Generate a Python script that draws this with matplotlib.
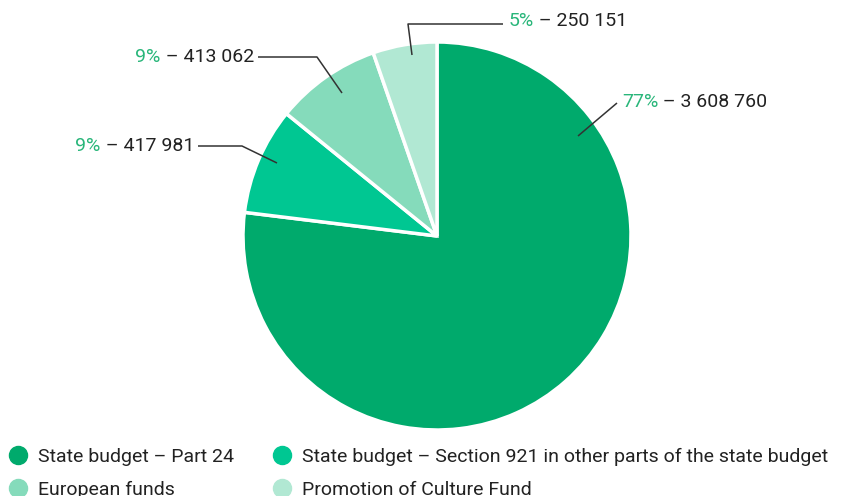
import matplotlib
matplotlib.use("Agg")
import matplotlib.pyplot as plt
from matplotlib.lines import Line2D

categories = [
    "State budget – Part 24",
    "State budget – Section 921 in other parts of the state budget",
    "European funds",
    "Promotion of Culture Fund",
]
values = [3608760, 417981, 413062, 250151]
percent_labels = ["77%", "9%", "9%", "5%"]
value_labels = ["3 608 760", "417 981", "413 062", "250 151"]
colors = ["#00aa6c", "#00c792", "#85dbbb", "#b1e8d3"]
pct_color = "#29b67a"
txt_color = "#222222"

W, H = 843, 496
plt.rcParams["font.family"] = ["Roboto", "DejaVu Sans"]
fig = plt.figure(figsize=(W / 100, H / 100), dpi=100)
ax = fig.add_axes([0, 0, 1, 1])

cx, cy, r = 437, H - 236, 194
ax.pie(values, colors=colors, startangle=90, counterclock=False,
       center=(cx, cy), radius=r,
       wedgeprops=dict(edgecolor="white", linewidth=2.5))
ax.set_xlim(0, W)
ax.set_ylim(0, H)
ax.set_aspect("equal")
ax.axis("off")

# leader lines: (anchor in slice, elbow, end), text position, alignment
leaders = [
    ([(578, 136), (617, 103)], (622, 102), "left"),
    ([(277, 163), (242, 146), (198, 146)], (194, 146), "right"),
    ([(342, 93), (317, 57), (258, 57)], (254, 57), "right"),
    ([(412, 55), (408, 24), (503, 24)], (509, 21), "left"),
]
fs = 14
for (pts, (tx, ty), ha), pct, val in zip(leaders, percent_labels, value_labels):
    xs = [p[0] for p in pts]
    ys = [H - p[1] for p in pts]
    ax.plot(xs, ys, color="#333333", lw=1.1, solid_capstyle="butt")
    if ha == "left":
        t = ax.text(tx, H - ty, pct, color=pct_color, fontsize=fs,
                    ha="left", va="center")
        ax.annotate(" – " + val, xycoords=t, xy=(1, 0.5), va="center",
                    ha="left", color=txt_color, fontsize=fs)
    else:
        t = ax.text(tx, H - ty, " – " + val, color=txt_color, fontsize=fs,
                    ha="right", va="center")
        ax.annotate(pct, xycoords=t, xy=(0, 0.5), va="center",
                    ha="right", color=pct_color, fontsize=fs)

handles = [Line2D([], [], marker="o", linestyle="", markersize=13,
                  markerfacecolor=c, markeredgecolor=c) for c in colors]
order = [0, 2, 1, 3]  # legend fills column by column
fig.legend([handles[i] for i in order], [categories[i] for i in order],
           ncol=2, loc="upper left",
           bbox_to_anchor=(0.003, 1 - 444 / H), frameon=False,
           fontsize=14, handletextpad=0.4, columnspacing=1.9,
           labelspacing=0.75, handlelength=1.2, borderaxespad=0.0,
           borderpad=0.2, labelcolor=txt_color)

fig.savefig("out.png", dpi=100)
